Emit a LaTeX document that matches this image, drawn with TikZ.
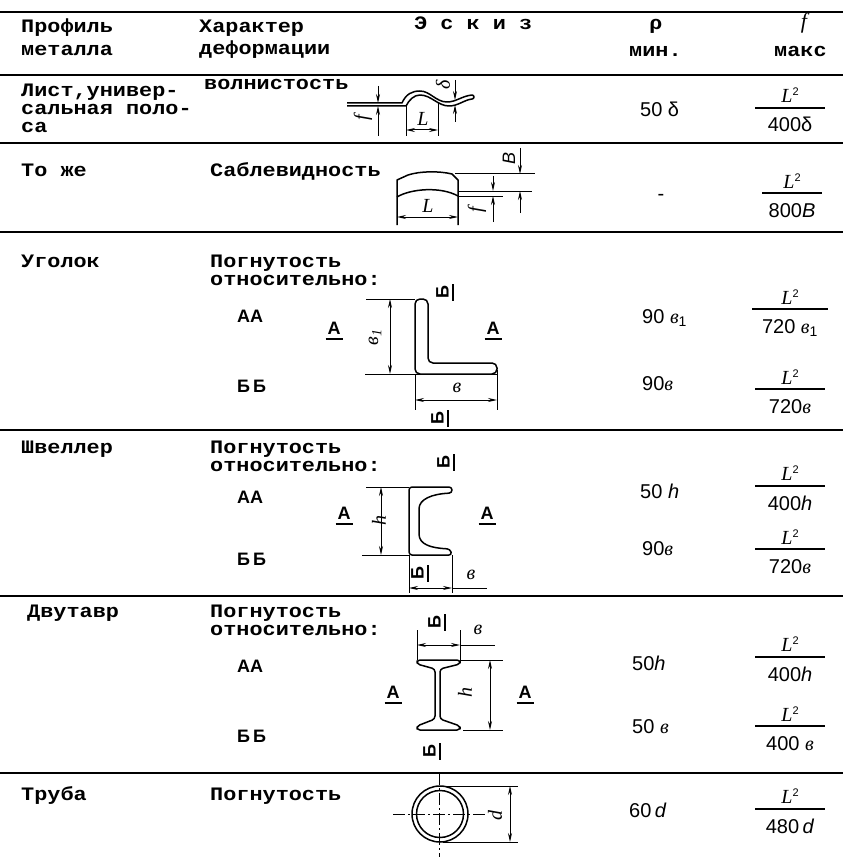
\documentclass[tikz,border=0pt]{standalone}
\usepackage{fontspec}
\setmainfont{Liberation Mono}
\newfontfamily\tw{Liberation Mono}[FakeStretch=1.15]
\newfontfamily\lsans{Liberation Sans}
\newfontfamily\lserif{Liberation Serif}
\usetikzlibrary{arrows.meta}

\newcommand{\itl}{\lserif\itshape}
\newcommand{\bw}{{\itl в}}
\newcommand{\Lsq}{{\itl L}\raisebox{7pt}{\fontsize{11}{11}\selectfont 2}}
\newcommand{\frc}[2][70pt]{\vbox{\hbox to #1{\hss\Lsq\hss}\kern4pt\hrule height 1.6pt\kern9pt\hbox to #1{\hss#2\hss}}}

\begin{document}
\begin{tikzpicture}[
x=1pt,y=-1pt,
txt/.style={font={\tw\bfseries\fontsize{19}{17}\selectfont},anchor=base west,inner sep=0pt},
sec/.style={font={\lsans\bfseries\fontsize{18}{18}\selectfont},anchor=base west,inner sep=0pt},
secl/.style={font={\lsans\bfseries\fontsize{18}{18}\selectfont},inner sep=0pt,align=center},
val/.style={font={\lsans\fontsize{20}{20}\selectfont},anchor=base west,inner sep=0pt},
frac/.style={font={\lsans\fontsize{20}{20}\selectfont},anchor=base,inner sep=0pt},
dl/.style={font={\itl\fontsize{20}{20}\selectfont},inner sep=0pt,rotate=90},
tabrule/.style={line width=2.2pt},
sk/.style={line width=1.5pt,line join=round},
dm/.style={line width=1pt},
arr/.style={dm,-{Stealth[length=9pt,width=4pt]}},
arr2/.style={dm,{Stealth[length=9pt,width=4pt]}-{Stealth[length=9pt,width=4pt]}}
]
\path[fill=white,use as bounding box] (0,0) rectangle (843,861);

% table rules
\foreach \y in {12,75,143,232,430,596,773}
  \draw[tabrule] (0,\y) -- (843,\y);

% header
\node[txt] (h1a) at (21,33) {Профиль};
\node[txt] (h1b) at (21,56) {металла};
\node[txt] (h2a) at (199,33) {Характер};
\node[txt] (h2b) at (199,55) {деформации};
\node[txt] (h3) at (414,30) {Э с к и з};
\node[txt,anchor=base] (h4a) at (656,30) {ρ};
\node[txt] (h4b) at (629,57) {мин.};
\node[anchor=base,inner sep=0pt,font={\itl\fontsize{22}{22}\selectfont}] (h5a) at (804,29) {f};
\node[txt] (h5b) at (774,57) {макс};

% row 1
\node[txt] (p1a) at (21,97) {Лист,универ-};
\node[txt] (p1b) at (21,115) {сальная поло-};
\node[txt] (p1c) at (21,133) {са};
\node[txt] (d1) at (204,90) {волнистость};
\node[val] (r1) at (640,117) {50 δ};
\node[frac] (f1) at (790,132) {\frc{400δ}};
\draw[sk] (347,103) -- (402,103) .. controls (406,94) and (412,91) .. (420,91)
  .. controls (430,91) and (436,102) .. (447,102) .. controls (456,102) and (462,96) .. (472,95)
  arc[start angle=-90,end angle=90,radius=2]
  .. controls (464,100) and (458,106) .. (449,106) .. controls (438,106) and (431,95) .. (420,95)
  .. controls (414,95) and (409,100) .. (406,106) -- (347,106);
\draw[arr] (378,86) -- (378,103);
\draw[arr] (378,136) -- (378,106);
\draw[arr] (455,80) -- (455,100);
\draw[arr] (455,122) -- (455,105);
\draw[dm] (406,106) -- (406,136);
\draw[dm] (438,103) -- (438,136);
\draw[arr2] (406,130) -- (438,130);
\node[dl] (l1f) at (363,118) {f};
\node[dl] (l1d) at (443,85) {δ};
\node[anchor=base,inner sep=0pt,font={\itl\fontsize{20}{20}\selectfont}] (l1L) at (423,126) {L};

% row 2
\node[txt] (p2) at (21,177) {То же};
\node[txt] (d2) at (210,177) {Саблевидность};
\node[inner sep=0pt,font={\lsans\fontsize{20}{20}\selectfont}] (r2) at (661,197) {-};
\node[frac] (f2) at (792,217) {\frc[60pt]{800\textit{B}}};
\draw[sk] (397,225) -- (397,180) -- (408,175) .. controls (420,171) and (440,171) .. (452,174)
  -- (458,180) -- (458,225);
\draw[sk] (397,197) .. controls (410,189) and (440,186) .. (458,196);
\draw[dm] (455,174) -- (535,174);
\draw[dm] (458,191) -- (532,191);
\draw[dm] (458,196) -- (503,196);
\draw[arr] (493,176) -- (493,191);
\draw[arr] (493,222) -- (493,196);
\draw[arr] (520,148) -- (520,174);
\draw[arr] (520,213) -- (520,191);
\draw[arr2] (397,217) -- (458,217);
\node[dl] (l2f) at (477,210) {f};
\node[dl,font={\lsans\itshape\fontsize{18}{18}\selectfont}] (l2B) at (509,158) {B};
\node[anchor=base,inner sep=0pt,font={\itl\fontsize{20}{20}\selectfont}] (l2L) at (428,212) {L};

% row 3
\node[txt] (p3) at (21,267) {Уголок};
\node[txt] (d3a) at (210,267) {Погнутость};
\node[txt] (d3b) at (210,285) {относительно:};
\node[sec] (aa3) at (237,322) {АА};
\node[sec] (bb3) at (237,392) {Б\hspace{3pt}Б};
\node[secl] (a3l) at (334,331) {А\\[-13pt]\rule{17pt}{1.6pt}};
\node[secl] (a3r) at (493,331) {А\\[-13pt]\rule{17pt}{1.6pt}};
\node[secl,rotate=90] (b3t) at (445,292) {Б\\[-13pt]\rule{17pt}{1.6pt}};
\node[secl,rotate=90] (b3b) at (440,418) {Б\\[-13pt]\rule{17pt}{1.6pt}};
\node[val] (r3a) at (642,323) {90 \bw\textsubscript{1}};
\node[val] (r3b) at (642,390) {90\bw};
\node[frac] (f3a) at (790,333) {\frc[76pt]{720 \bw\textsubscript{1}}};
\node[frac] (f3b) at (790,413) {\frc{720\bw}};
\draw[sk,rounded corners=5pt] (415,374) -- (415,299) -- (428,299) -- (428,363) -- (497,363)
  -- (497,374) -- cycle;
\draw[dm] (366,299) -- (415,299);
\draw[dm] (365,374) -- (497,374);
\draw[dm] (415,374) -- (415,410);
\draw[dm] (497,370) -- (497,410);
\draw[arr2] (390,299) -- (390,374);
\draw[arr2] (415,400) -- (497,400);
\node[dl] (l3b) at (375,337) {в\textsubscript{1}};
\node[inner sep=0pt,font={\itl\fontsize{20}{20}\selectfont}] (l3w) at (457,388) {в};

% row 4
\node[txt] (p4) at (21,453) {Швеллер};
\node[txt] (d4a) at (210,453) {Погнутость};
\node[txt] (d4b) at (210,471) {относительно:};
\node[sec] (aa4) at (237,503) {АА};
\node[sec] (bb4) at (237,565) {Б\hspace{3pt}Б};
\node[secl] (a4l) at (344,516) {А\\[-13pt]\rule{17pt}{1.6pt}};
\node[secl] (a4r) at (487,516) {А\\[-13pt]\rule{17pt}{1.6pt}};
\node[secl,rotate=90] (b4t) at (446,462) {Б\\[-13pt]\rule{17pt}{1.6pt}};
\node[secl,rotate=90] (b4b) at (420,573) {Б\\[-13pt]\rule{17pt}{1.6pt}};
\node[val] (r4a) at (640,498) {50 \textit{h}};
\node[val] (r4b) at (642,555) {90\bw};
\node[frac] (f4a) at (790,510) {\frc{400\textit{h}}};
\node[frac] (f4b) at (790,573) {\frc{720\bw}};
\draw[sk,rounded corners=3pt] (409,555) -- (409,487) -- (452,487) -- (452,493)
  .. controls (432,494) and (419,499) .. (419,512) -- (419,531)
  .. controls (419,545) and (432,548) .. (450,549) -- (452,555) -- cycle;
\draw[dm] (366,487) -- (409,487);
\draw[dm] (362,555) -- (409,555);
\draw[dm] (409,555) -- (409,593);
\draw[dm] (452,555) -- (452,593);
\draw[arr2] (381,487) -- (381,555);
\draw[arr2] (409,588) -- (452,588);
\draw[dm] (452,588) -- (487,588);
\node[dl] (l4h) at (379,520) {h};
\node[inner sep=0pt,font={\itl\fontsize{20}{20}\selectfont}] (l4w) at (471,575) {в};

% row 5
\node[txt] (p5) at (27,617) {Двутавр};
\node[txt] (d5a) at (210,617) {Погнутость};
\node[txt] (d5b) at (210,635) {относительно:};
\node[sec] (aa5) at (237,672) {АА};
\node[sec] (bb5) at (237,742) {Б\hspace{3pt}Б};
\node[secl] (a5l) at (393,695) {А\\[-13pt]\rule{17pt}{1.6pt}};
\node[secl] (a5r) at (525,695) {А\\[-13pt]\rule{17pt}{1.6pt}};
\node[secl,rotate=90] (b5t) at (437,622) {Б\\[-13pt]\rule{17pt}{1.6pt}};
\node[secl,rotate=90] (b5b) at (432,751) {Б\\[-13pt]\rule{17pt}{1.6pt}};
\node[val] (r5a) at (632,670) {50\textit{h}};
\node[val] (r5b) at (632,733) {50 \bw};
\node[frac] (f5a) at (790,681) {\frc{400\textit{h}}};
\node[frac] (f5b) at (790,750) {\frc{400 \bw}};
\draw[sk,rounded corners=3pt] (417,660) -- (460,660) -- (460,664) -- (440,669) -- (440,719)
  -- (460,726) -- (460,730) -- (417,730) -- (417,726) -- (435,719) -- (435,669)
  -- (417,664) -- cycle;
\draw[dm] (417,630) -- (417,660);
\draw[dm] (460,630) -- (460,660);
\draw[arr2] (417,645) -- (460,645);
\draw[dm] (460,645) -- (495,645);
\draw[dm] (460,660) -- (503,660);
\draw[dm] (463,730) -- (503,730);
\draw[arr2] (490,660) -- (490,730);
\node[dl] (l5h) at (465,692) {h};
\node[inner sep=0pt,font={\itl\fontsize{20}{20}\selectfont}] (l5w) at (478,630) {в};

% row 6
\node[txt] (p6) at (21,800) {Труба};
\node[txt] (d6) at (210,800) {Погнутость};
\node[val] (r6) at (629,817) {60\,\textit{d}};
\node[frac] (f6) at (790,833) {\frc{480\,\textit{d}}};
\draw[sk] (440,814) circle[radius=28];
\draw[sk] (440,814) circle[radius=23.5];
\draw[dm,dash pattern=on 12pt off 3pt on 2pt off 3pt] (393,814) -- (485,814);
\draw[dm,dash pattern=on 12pt off 3pt on 2pt off 3pt] (439,773) -- (439,857);
\draw[dm] (447,786) -- (518,786);
\draw[dm] (443,842) -- (518,842);
\draw[arr2] (510,786) -- (510,842);
\node[dl] (l6d) at (495,815) {d};

\end{tikzpicture}
\end{document}
